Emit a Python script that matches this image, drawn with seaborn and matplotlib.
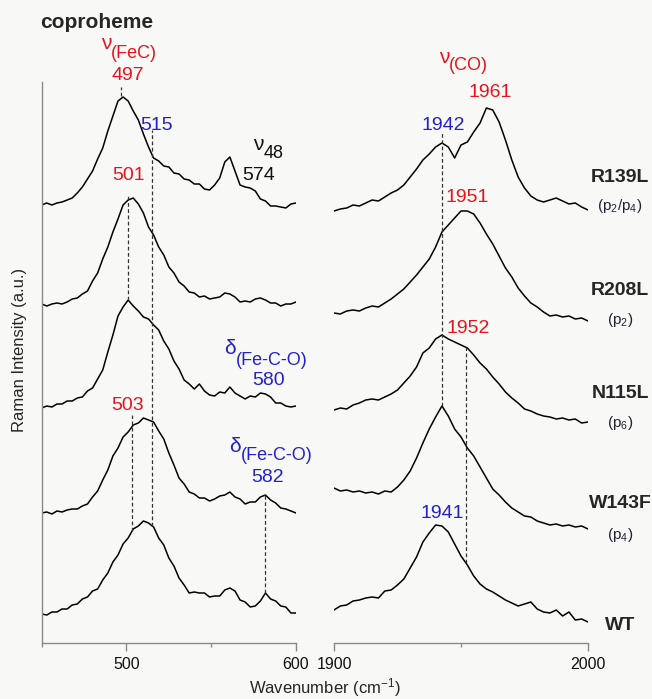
import numpy as np
import matplotlib
matplotlib.use("Agg")
import matplotlib.pyplot as plt
import seaborn as sns

# wavenumber grids (cm-1)
wn_low = np.arange(450, 601, 3)        # Fe-C / Fe-C-O region
wn_co = np.arange(1900, 2000.1, 2.5)   # C-O stretch region

samples = ["R139L", "R208L", "N115L", "W143F", "WT"]
forms = [r"(p$_2$/p$_4$)", r"(p$_2$)", r"(p$_6$)", r"(p$_4$)", ""]

# low-frequency spectra, intensity above own baseline (a.u.)
r139l_low = [3, 5, 3, 5, 6, 8, 10, 15, 21, 29, 37, 49, 60, 77, 92, 107, 111, 107, 97, 88,
             74, 61, 50, 47, 42, 41, 35, 34, 29, 28, 24, 24, 19, 18, 23, 30, 46, 51, 37, 23,
             21, 20, 17, 9, 7, 2, 2, 1, 0, 4, 5]
r208l_low = [2, 0, 2, 3, 2, 4, 7, 8, 12, 15, 25, 33, 47, 59, 74, 87, 101, 106, 108, 102,
             93, 79, 71, 59, 51, 39, 33, 24, 20, 14, 13, 9, 10, 7, 8, 9, 13, 12, 9, 4,
             5, 4, 7, 8, 6, 3, 3, 0, 2, 2, 4]
n115l_low = [1, 3, 2, 5, 5, 8, 8, 11, 12, 18, 21, 30, 39, 57, 74, 93, 102, 109, 103, 98,
             92, 90, 84, 79, 68, 60, 48, 40, 29, 25, 20, 25, 18, 14, 13, 17, 16, 22, 16, 13,
             10, 13, 12, 16, 15, 12, 6, 6, 3, 2, 3]
w143f_low = [1, 2, 0, 3, 2, 4, 5, 5, 8, 10, 17, 23, 34, 44, 58, 66, 77, 82, 89, 91,
             96, 94, 92, 83, 75, 61, 49, 36, 30, 22, 20, 16, 16, 13, 15, 18, 19, 22, 17, 15,
             10, 12, 12, 17, 19, 14, 11, 6, 5, 3, 1]
wt_low = [2, 1, 4, 4, 7, 7, 11, 12, 17, 19, 25, 27, 36, 43, 54, 61, 72, 78, 87, 90,
          95, 93, 89, 78, 71, 58, 50, 38, 31, 23, 24, 23, 23, 19, 20, 20, 26, 28, 25, 16,
          14, 9, 10, 15, 23, 17, 15, 10, 9, 3, 3]

# CO stretch spectra
r139l_co = [1, 3, 4, 7, 6, 9, 12, 11, 15, 19, 22, 27, 35, 43, 52, 58, 65, 69, 65, 54,
            67, 70, 80, 89, 104, 102, 90, 72, 52, 35, 24, 16, 12, 10, 12, 14, 11, 8, 9, 5, 2]
r208l_co = [9, 8, 11, 12, 11, 14, 16, 15, 19, 23, 28, 33, 40, 47, 55, 63, 75, 90, 97, 104,
            111, 111, 108, 99, 88, 78, 66, 54, 45, 34, 26, 19, 15, 10, 6, 7, 5, 6, 3, 4, 1]
n115l_co = [15, 17, 16, 20, 22, 25, 26, 25, 28, 31, 35, 42, 49, 58, 72, 77, 86, 90, 86, 83,
            80, 77, 70, 62, 56, 48, 41, 33, 27, 22, 16, 14, 11, 9, 8, 6, 7, 5, 6, 2, 3]
w143f_co = [42, 39, 40, 38, 39, 37, 38, 36, 39, 38, 43, 50, 59, 72, 87, 101, 113, 124, 114, 101,
            93, 82, 74, 63, 52, 41, 35, 28, 22, 18, 14, 13, 9, 7, 5, 6, 4, 5, 3, 4, 1]
wt_co = [12, 16, 17, 21, 22, 24, 25, 24, 31, 32, 37, 43, 54, 65, 80, 89, 97, 96, 90, 78,
         66, 57, 46, 38, 33, 30, 26, 22, 19, 16, 18, 20, 13, 10, 9, 12, 6, 10, 2, 3, 0]

low_sets = [r139l_low, r208l_low, n115l_low, w143f_low, wt_low]
co_sets = [r139l_co, r208l_co, n115l_co, w143f_co, wt_co]

# vertical stacking offsets
offsets_low = [435, 337, 234, 129, 27]
offsets_co = [431, 321, 218, 113, 21]

RED = "#e8141c"
BLUE = "#2222cc"
GREY = "#8a8a8a"
bg = "#f8f8f6"

sns.set_theme(style="ticks", rc={"axes.facecolor": bg, "figure.facecolor": bg})
plt.rcParams["font.family"] = ["Liberation Sans", "DejaVu Sans"]
plt.rcParams["mathtext.fontset"] = "custom"
plt.rcParams["mathtext.rm"] = "Liberation Sans"
plt.rcParams["mathtext.it"] = "Liberation Sans:italic"

fig = plt.figure(figsize=(6.52, 6.99), dpi=100)
ax_l = fig.add_axes([41.7 / 652, 56 / 699, 254.3 / 652, 561 / 699])
ax_r = fig.add_axes([334 / 652, 56 / 699, 254 / 652, 561 / 699])

for vals, off in zip(low_sets, offsets_low):
    sns.lineplot(x=wn_low, y=np.asarray(vals) + off, ax=ax_l, color="black",
                 lw=1.1, estimator=None, sort=False)
for vals, off in zip(co_sets, offsets_co):
    sns.lineplot(x=wn_co, y=np.asarray(vals) + off, ax=ax_r, color="black",
                 lw=1.1, estimator=None, sort=False)


def level(panel, name, x):
    i = samples.index(name)
    if panel == "low":
        return np.interp(x, wn_low, low_sets[i]) + offsets_low[i]
    return np.interp(x, wn_co, co_sets[i]) + offsets_co[i]


dash = dict(color="#333333", lw=0.9, ls=(0, (3, 2)))
ax_l.plot([497, 497], [level("low", "R139L", 497) + 2, level("low", "R139L", 497) + 11], **dash)
ax_l.plot([515, 515], [level("low", "WT", 515), 513], **dash)
ax_l.plot([501, 501], [level("low", "N115L", 501), 448], **dash)
ax_l.plot([503.5, 503.5], [level("low", "WT", 503.5), 228], **dash)
ax_l.plot([582, 582], [level("low", "WT", 582), level("low", "W143F", 582)], **dash)
ax_r.plot([1942.5, 1942.5], [level("co", "W143F", 1942.5), 510], **dash)
ax_r.plot([1952, 1952], [level("co", "WT", 1952), level("co", "N115L", 1952)], **dash)

for ax in (ax_l, ax_r):
    ax.set_ylim(0, 561)
    ax.set_yticks([])
    ax.set_xlabel("")
    ax.set_ylabel("")
    for s in ("top", "right"):
        ax.spines[s].set_visible(False)
    for s in ("left", "bottom"):
        ax.spines[s].set_color(GREY)
        ax.spines[s].set_linewidth(1.0)
    ax.tick_params(axis="x", which="major", length=6, width=1, color=GREY,
                   labelsize=11.5, pad=4, labelcolor="#111111")
    ax.tick_params(axis="x", which="minor", length=3, width=1, color=GREY)
ax_r.spines["left"].set_visible(False)

ax_l.set_xlim(450, 600)
ax_l.set_xticks([500, 600])
ax_l.set_xticks([450, 550], minor=True)
ax_r.set_xlim(1900, 2000)
ax_r.set_xticks([1900, 2000])
ax_r.set_xticks([1950], minor=True)


def band(ax, x, y, sym, sub, color, dy=-10):
    ax.text(x, y, sym, color=color, fontsize=15, ha="right", va="center")
    ax.text(x, y + dy, sub, color=color, fontsize=13, ha="left", va="center")


# low-frequency annotations
band(ax_l, 491, 600, "ν", "(FeC)", RED)
ax_l.text(501, 568, "497", color=RED, fontsize=14, ha="center", va="center")
ax_l.text(518, 518, "515", color=BLUE, fontsize=14, ha="center", va="center")
band(ax_l, 581, 498, "ν", "48", "#111111", dy=-8)
ax_l.text(578, 467, "574", color="#111111", fontsize=14, ha="center", va="center")
ax_l.text(501, 468, "501", color=RED, fontsize=14, ha="center", va="center")
band(ax_l, 564.4, 295, "δ", "(Fe-C-O)", BLUE, dy=-12)
ax_l.text(584, 263, "580", color=BLUE, fontsize=14, ha="center", va="center")
ax_l.text(500.5, 237, "503", color=RED, fontsize=14, ha="center", va="center")
band(ax_l, 567.4, 196, "δ", "(Fe-C-O)", BLUE, dy=-9)
ax_l.text(583.5, 166, "582", color=BLUE, fontsize=14, ha="center", va="center")

# CO annotations
band(ax_r, 1945.3, 586, "ν", "(CO)", RED, dy=-8)
ax_r.text(1961.4, 551, "1961", color=RED, fontsize=14, ha="center", va="center")
ax_r.text(1942.9, 518, "1942", color=BLUE, fontsize=14, ha="center", va="center")
ax_r.text(1952.4, 446, "1951", color=RED, fontsize=14, ha="center", va="center")
ax_r.text(1952.8, 315, "1952", color=RED, fontsize=14, ha="center", va="center")
ax_r.text(1942.5, 130, "1941", color=BLUE, fontsize=14, ha="center", va="center")

# sample labels at the right
name_y = [466, 353, 250, 140, 18]
form_y = [437, 323, 220, 108, 0]
for name, form, ny, fy in zip(samples, forms, name_y, form_y):
    ax_r.text(2012.6, ny, name, fontsize=14, fontweight="bold", ha="center", va="center")
    if form:
        ax_r.text(2012.6, fy, form, fontsize=11, color="#222233", ha="center", va="center")

fig.text(40 / 652, 1 - 22 / 699, "coproheme", fontsize=15, fontweight="bold",
         ha="left", va="center")
fig.text(20 / 652, 1 - 350 / 699, "Raman Intensity (a.u.)", fontsize=12,
         rotation=90, ha="center", va="center")
fig.text(325 / 652, 1 - 688 / 699, r"Wavenumber (cm$^{-1}$)", fontsize=12,
         ha="center", va="center")

fig.savefig("out.png", dpi=100)
